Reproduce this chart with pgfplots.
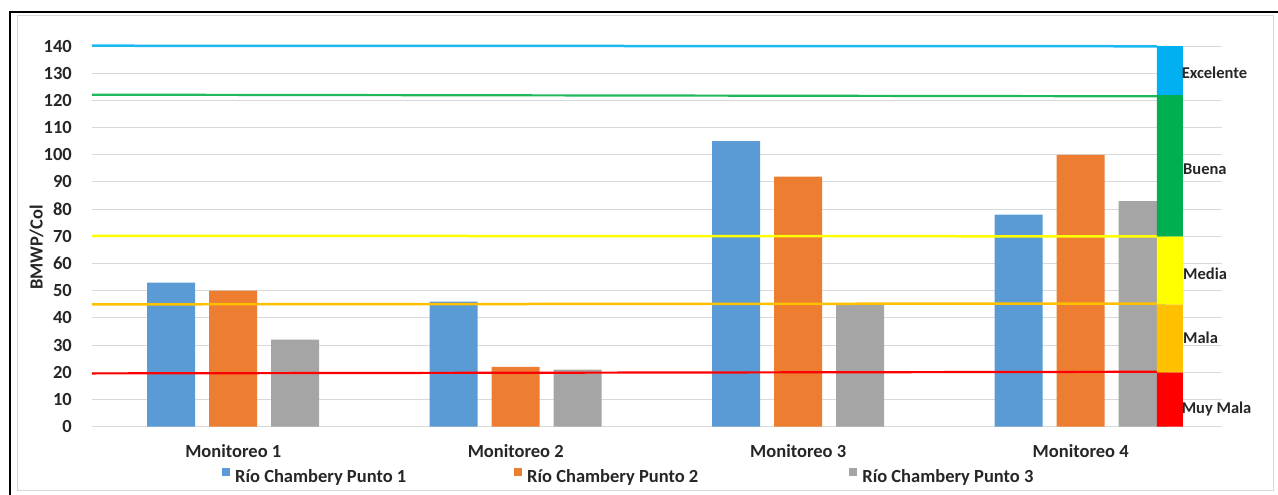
\documentclass[border=0pt]{standalone}
\usepackage{pgfplots}
\pgfplotsset{compat=1.18}
\usepackage{fontspec}
\setmainfont{Carlito}

\definecolor{serieA}{HTML}{5B9BD5}
\definecolor{serieB}{HTML}{ED7D31}
\definecolor{serieC}{HTML}{A5A5A5}
\definecolor{exc}{HTML}{00B0F0}
\definecolor{excl}{HTML}{1CB8F2}
\definecolor{bue}{HTML}{00B050}
\definecolor{buel}{HTML}{20B85A}
\definecolor{med}{HTML}{FFFF00}
\definecolor{mal}{HTML}{FFC000}
\definecolor{muy}{HTML}{FF0000}
\definecolor{gridc}{HTML}{D9D9D9}
\definecolor{txt}{HTML}{262626}

\newcommand{\lab}{\bfseries\fontsize{18.5}{20}\selectfont}

\begin{document}
\begin{tikzpicture}
\path[use as bounding box] (0pt,0pt) rectangle (1278pt,-495pt);
% chart area frames
\draw[gridc, line width=1pt] (17pt,-16pt) rectangle (1273pt,-490pt);
\draw[black, line width=2pt] (1278pt,-12pt) -- (9.5pt,-12pt) -- (9.5pt,-495pt);

\begin{axis}[
  at={(92pt,-426.7pt)}, anchor=south west,
  scale only axis, width=1130pt, height=380.7pt,
  clip=false,
  xmin=-0.5, xmax=3.5, ymin=0, ymax=140,
  xtick={0,1,2,3},
  xticklabels={Monitoreo 1,Monitoreo 2,Monitoreo 3,Monitoreo 4},
  ytick={0,10,...,140},
  ymajorgrids, grid style={gridc, line width=1pt},
  axis line style={draw=none},
  major tick length=0pt,
  /pgf/number format/assume math mode=true,
  tick label style={font=\lab, text=txt},
  yticklabel style={anchor=east, inner sep=0pt, xshift=-20pt},
  xticklabel style={anchor=base, inner sep=0pt, yshift=-31pt},
  ylabel={BMWP/Col},
  ylabel style={at={(axis description cs:-0.0491,0.4707)}, anchor=center, font=\lab, text=txt},
  legend columns=3,
  legend style={at={(axis description cs:0.115,-0.1295)}, anchor=west,
    draw=none, fill=none, inner sep=0pt,
    nodes={inner sep=0pt, font=\lab, text=txt},
    /tikz/column 1/.style={column sep=5pt},
    /tikz/column 2/.style={column sep=108pt},
    /tikz/column 3/.style={column sep=5pt},
    /tikz/column 4/.style={column sep=151pt},
    /tikz/column 5/.style={column sep=5pt}},
  legend image code/.code={\fill[#1] (0pt,1.5pt) rectangle (8pt,9.5pt);},
]
% sampling points
\addplot[ybar, bar width=48pt, bar shift=-62pt, fill=serieA, draw=none]
  coordinates {(0,53) (1,46) (2,105) (3,78)};
\addplot[ybar, bar width=48pt, bar shift=0pt, fill=serieB, draw=none]
  coordinates {(0,50) (1,22) (2,92) (3,100)};
\addplot[ybar, bar width=48pt, bar shift=62pt, fill=serieC, draw=none]
  coordinates {(0,32) (1,21) (2,45) (3,83)};
\legend{Río Chambery Punto 1, Río Chambery Punto 2, Río Chambery Punto 3}

% quality class limits
\addplot[forget plot, muy, line width=2.2pt] coordinates {(-0.5,19.6) (3.27,20.2)};
\addplot[forget plot, mal, line width=2.5pt] coordinates {(-0.5,45) (3.27,45.3)};
\addplot[forget plot, med, line width=2.5pt] coordinates {(-0.5,70.2) (3.27,70)};
\addplot[forget plot, buel, line width=2.2pt] coordinates {(-0.5,122.1) (3.27,121.5)};
\addplot[forget plot, excl, line width=2.5pt] coordinates {(-0.5,140.1) (3.27,139.9)};

% quality class scale
\addplot[forget plot, fill=muy, draw=none] coordinates {(3.27,0) (3.362,0) (3.362,20) (3.27,20) (3.27,0)};
\addplot[forget plot, fill=mal, draw=none] coordinates {(3.27,20) (3.362,20) (3.362,45) (3.27,45) (3.27,20)};
\addplot[forget plot, fill=med, draw=none] coordinates {(3.27,45) (3.362,45) (3.362,70) (3.27,70) (3.27,45)};
\addplot[forget plot, fill=bue, draw=none] coordinates {(3.27,70) (3.362,70) (3.362,122) (3.27,122) (3.27,70)};
\addplot[forget plot, fill=exc, draw=none] coordinates {(3.27,122) (3.362,122) (3.362,140) (3.27,140) (3.27,122)};

\begin{scope}[every node/.style={anchor=west, inner sep=0pt, text=txt, font=\bfseries\fontsize{16.5}{18}\selectfont}]
\node at (axis cs:3.357,130.1) {Excelente};
\node at (axis cs:3.362,94.8) {Buena};
\node at (axis cs:3.362,56.2) {Media};
\node at (axis cs:3.362,32.6) {Mala};
\node at (axis cs:3.357,6.5) {Muy Mala};
\end{scope}
\end{axis}
\end{tikzpicture}
\end{document}
